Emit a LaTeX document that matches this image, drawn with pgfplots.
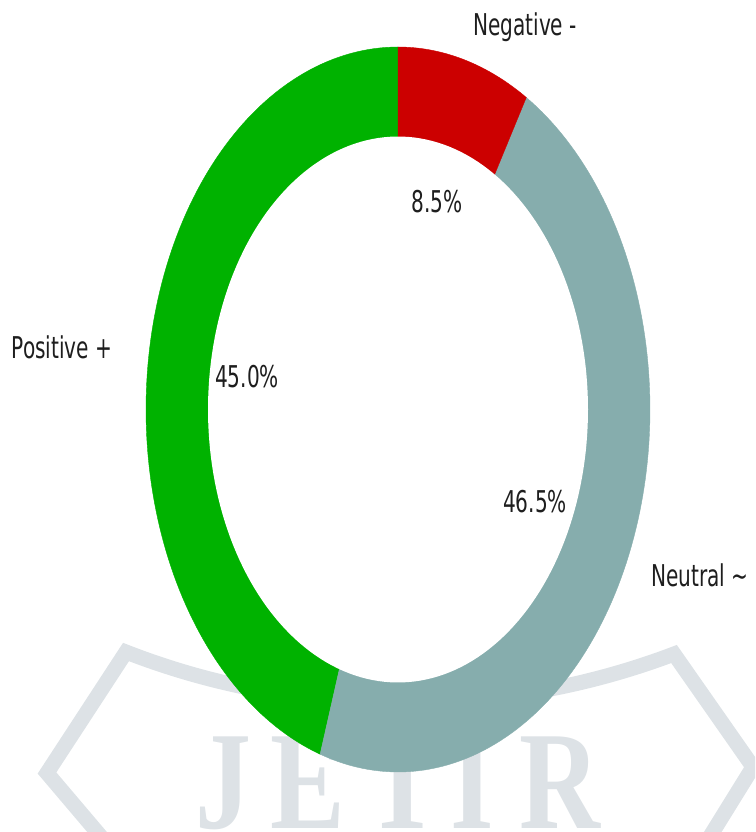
\documentclass[border=0pt]{standalone}
\usepackage{pgfplots}
\pgfplotsset{compat=1.18}
\usepackage{pgfplotstable}
\usepackage{fontspec}
\setmainfont{DejaVu Sans}[FakeStretch=0.67]
\newfontfamily\wmfont{Liberation Serif}[FakeStretch=0.8]
\definecolor{cpos}{RGB}{0,178,0}
\definecolor{cneu}{RGB}{134,173,173}
\definecolor{cneg}{RGB}{204,0,0}
\definecolor{wm}{RGB}{221,226,230}
\definecolor{txt}{RGB}{30,30,30}
\pgfplotstableread{
label value
Positive 45.0
Neutral 46.5
Negative 8.5
}\slices
\def\cx{398}\def\cy{422.5}\def\rx{252}\def\ry{362.5}\def\irx{190}\def\iry{273}
\begin{document}%
\pgfplotstablegetelem{0}{value}\of\slices \let\vPos\pgfplotsretval%
\pgfplotstablegetelem{1}{value}\of\slices \let\vNeu\pgfplotsretval%
\pgfplotstablegetelem{2}{value}\of\slices \let\vNeg\pgfplotsretval%
\pgfmathsetmacro\aA{90}%
\pgfmathsetmacro\aB{\aA+3.6*\vPos}%
\pgfmathsetmacro\aC{\aB+3.6*\vNeu}%
\pgfmathsetmacro\aD{\aC+3.6*\vNeg}%
\begin{tikzpicture}
\path[use as bounding box] (0,0) rectangle (755pt,832pt);
\clip (0,0) rectangle (755pt,832pt);
\begin{axis}[at={(0,0)},anchor=south west,width=755pt,height=832pt,scale only axis,
  xmin=0,xmax=755,ymin=0,ymax=832,hide axis,clip=false]
% watermark
\draw[wm, line width=15pt, line join=miter] (131,-40) -- (47,59) -- (126,180) .. controls (300,112) and (500,112) .. (674,178) -- (753,65) -- (688,-40);
\begin{scope}[every node/.style={wm, anchor=base, font=\wmfont\bfseries\fontsize{140}{150}\selectfont}]
\node at (223,4) {J};
\node at (308,4) {E};
\node at (403,4) {T};
\node at (472,4) {I};
\node at (560,4) {R};
\end{scope}
% donut wedges
\addplot[fill=cpos, draw=cpos, line width=0.4pt, domain=\aA:\aB, samples=120, variable=\t]
  ({\cx+\rx*cos(t)},{\cy+\ry*sin(t)}) -- (axis cs:\cx,\cy) -- cycle;
\addplot[fill=cneu, draw=cneu, line width=0.4pt, domain=\aB:\aC, samples=120, variable=\t]
  ({\cx+\rx*cos(t)},{\cy+\ry*sin(t)}) -- (axis cs:\cx,\cy) -- cycle;
\addplot[fill=cneg, draw=cneg, line width=0.4pt, domain=\aC:\aD, samples=40, variable=\t]
  ({\cx+\rx*cos(t)},{\cy+\ry*sin(t)}) -- (axis cs:\cx,\cy) -- cycle;
\addplot[fill=white, draw=none, domain=0:360, samples=200, variable=\t]
  ({\cx+\irx*cos(t)},{\cy+\iry*sin(t)}) -- cycle;
% labels
\begin{scope}[every node/.style={txt, anchor=base, font=\fontsize{30}{36}\selectfont}]
\node at (525,796) {Negative -};
\node at (62,473) {Positive +};
\node at (700,245) {Neutral \char"007E};
\node at (437,619) {8.5\%};
\node at (247,444) {45.0\%};
\node at (535,319) {46.5\%};
\end{scope}
\end{axis}
\end{tikzpicture}%
\end{document}
